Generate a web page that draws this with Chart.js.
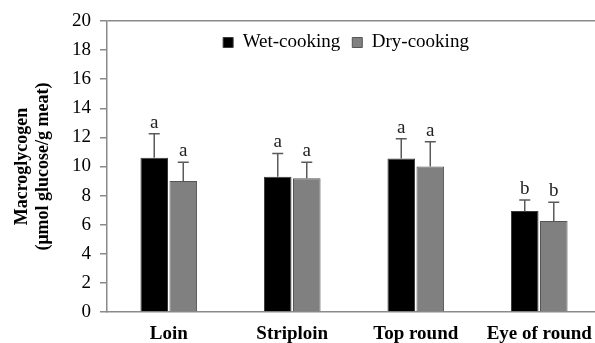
<!DOCTYPE html>
<html lang="en">
<head>
  <meta charset="UTF-8" />
  <title>Macroglycogen</title>
  <script src="https://cdn.jsdelivr.net/npm/chart.js"></script>
  <style>
    html, body { margin: 0; padding: 0; overflow: hidden; background: #fff; }
    #grafico { display: block; }
  </style>
</head>
<body>

  <canvas id="grafico" width="605" height="343"></canvas>

  <script>
    // data
    const cortes = ['Loin', 'Striploin', 'Top round', 'Eye of round'];
    const wetMedia = [10.6, 9.3, 10.55, 6.95];
    const wetError = [1.65, 1.6, 1.35, 0.75];
    const wetLetra = ['a', 'a', 'a', 'b'];
    const dryMedia = [9.0, 9.2, 10.0, 6.25];
    const dryError = [1.3, 1.1, 1.7, 1.3];
    const dryLetra = ['a', 'a', 'a', 'b'];
    const yTicks = [0, 2, 4, 6, 8, 10, 12, 14, 16, 18, 20];

    const serif = '"Liberation Serif", "Times New Roman", serif';
    const gris = '#8a8a8a';

    // error bars plus letters above them
    const barrasError = {
      id: 'barrasError',
      afterInit(chart) {
        // legend lives inside the plot area but laid out in one row
        chart.legend.isHorizontal = () => true;
      },
      afterLayout(chart) {
        // legend sits a little left of centre in the original
        const area = chart.chartArea;
        chart.legend.left = area.left - 8;
        chart.legend.right = area.right - 8;
      },
      afterDatasetsDraw(chart) {
        const c = chart.ctx;
        const y = chart.scales.y;
        c.save();
        chart.data.datasets.forEach((ds, i) => {
          const meta = chart.getDatasetMeta(i);
          meta.data.forEach((bar, j) => {
            const top = y.getPixelForValue(ds.data[j] + ds.errores[j]);
            c.strokeStyle = '#5a5a5a';
            c.lineWidth = 1.5;
            c.beginPath();
            c.moveTo(bar.x, bar.y);
            c.lineTo(bar.x, top);
            c.moveTo(bar.x - 5.5, top);
            c.lineTo(bar.x + 5.5, top);
            c.stroke();
            c.fillStyle = '#222';
            c.font = '19px ' + serif;
            c.textAlign = 'center';
            c.textBaseline = 'alphabetic';
            c.fillText(ds.letras[j], bar.x, top - 6);
          });
        });
        c.restore();
      }
    };

    const ctx = document.getElementById('grafico').getContext('2d');
    new Chart(ctx, {
      type: 'bar',
      data: {
        labels: cortes,
        datasets: [{
          label: 'Wet-cooking',
          data: wetMedia,
          errores: wetError,
          letras: wetLetra,
          backgroundColor: '#000000',
          borderColor: '#3a3a3a',
          borderWidth: 1
        }, {
          label: 'Dry-cooking',
          data: dryMedia,
          errores: dryError,
          letras: dryLetra,
          backgroundColor: '#808080',
          borderColor: '#555555',
          borderWidth: 1
        }]
      },
      options: {
        responsive: false,
        animation: false,
        categoryPercentage: 0.47,
        barPercentage: 0.95,
        layout: { padding: { top: 21, right: 1, bottom: 0, left: 0 } },
        plugins: {
          legend: {
            position: 'chartArea',
            align: 'center',
            labels: {
              boxWidth: 10,
              boxHeight: 10,
              padding: 12,
              color: '#000',
              font: { family: serif, size: 19 }
            }
          },
          tooltip: { enabled: false }
        },
        scales: {
          x: {
            afterFit: s => { s.height = 31; },
            grid: { display: false, drawTicks: false },
            border: { display: true, color: gris, width: 1.5 },
            ticks: {
              color: '#000',
              padding: 13,
              font: { family: serif, size: 19, weight: 'bold', lineHeight: 1 }
            }
          },
          y: {
            min: 0,
            max: 20,
            afterFit: s => { s.width = 107; },
            afterBuildTicks: s => { s.ticks = yTicks.map(v => ({ value: v })); },
            grid: {
              color: c => (c.tick && c.tick.value === 20 ? gris : 'rgba(0,0,0,0)'),
              tickColor: gris,
              tickLength: 7,
              lineWidth: 1.5
            },
            border: { display: true, color: gris, width: 1.5 },
            ticks: {
              color: '#000',
              padding: 9,
              font: { family: serif, size: 19 }
            },
            title: {
              display: true,
              text: ['Macroglycogen', '(\u03bcmol glucose/g meat)'],
              color: '#000',
              padding: { top: 12, bottom: 0 },
              font: { family: serif, size: 18, weight: 'bold', lineHeight: 1.15 }
            }
          }
        }
      },
      plugins: [barrasError]
    });
  </script>

</body>
</html>
